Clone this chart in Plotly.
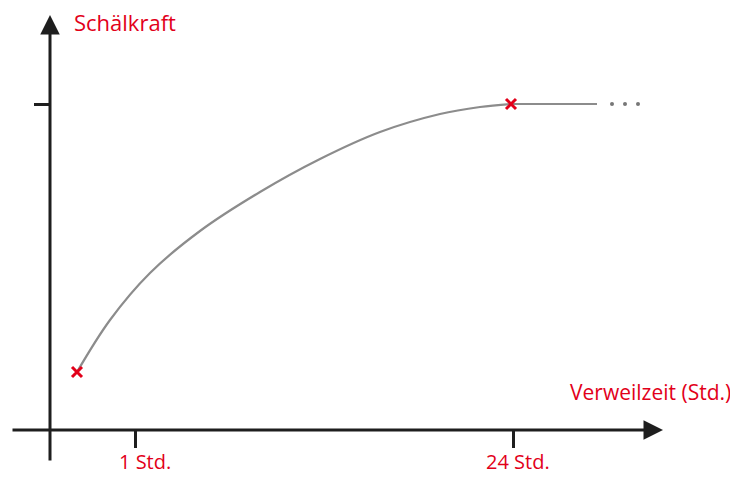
import plotly.graph_objects as go

# Schematic units (x: time axis units from y-axis, y: peel force units from x-axis)
zeit = [27, 60, 100, 150, 210, 270, 330, 390, 430, 461]
schaelkraft = [58, 110, 157, 199, 238, 271, 298, 316, 323, 326]
plateau_x = [461, 547]
plateau_y = [326, 326]
dots_x = [562, 575, 588]
dots_y = [326, 326, 326]
mark_x = [27, 461]
mark_y = [58, 326]
tick_x = [85, 463]
tick_labels = ["1 Std.", "24 Std."]
tick_label_x = [94.5, 468]
ytick = [326]

RED = "#e2001a"
GRAY = "#8c8c8c"
BLACK = "#1e1e1e"
FONT = "Open Sans"

fig = go.Figure()
fig.add_trace(go.Scatter(x=zeit, y=schaelkraft, mode="lines", line=dict(color=GRAY, width=2.2, shape="spline", smoothing=1.0), hoverinfo="skip"))
fig.add_trace(go.Scatter(x=plateau_x, y=plateau_y, mode="lines", line=dict(color=GRAY, width=2.2), hoverinfo="skip"))
fig.add_trace(go.Scatter(x=dots_x, y=dots_y, mode="markers", marker=dict(color="#777777", size=4), hoverinfo="skip"))
fig.add_trace(go.Scatter(x=mark_x, y=mark_y, mode="markers", marker=dict(symbol="x-thin-open", size=10, line=dict(color=RED, width=3), color=RED), hoverinfo="skip"))

# axis arrows
fig.add_annotation(x=613, y=0, ax=-39, ay=0, xref="x", yref="y", axref="x", ayref="y", text="", showarrow=True, arrowhead=2, arrowsize=1.3, arrowwidth=3, arrowcolor=BLACK)
fig.add_annotation(x=0, y=415, ax=0, ay=-32, xref="x", yref="y", axref="x", ayref="y", text="", showarrow=True, arrowhead=2, arrowsize=1.3, arrowwidth=3, arrowcolor=BLACK)

# axis titles
fig.add_annotation(x=22, y=408, xref="x", yref="y", text="Schälkraft", showarrow=False, xanchor="left", yanchor="middle", font=dict(color=RED, size=22, family=FONT))
fig.add_annotation(x=683, y=38, xref="x", yref="y", text="Verweilzeit (Std.)", showarrow=False, xanchor="right", yanchor="middle", font=dict(color=RED, size=21, family=FONT))

for lx, lab in zip(tick_label_x, tick_labels):
    fig.add_annotation(x=lx, y=-47, xref="x", yref="y", text=lab, showarrow=False, xanchor="center", yanchor="bottom", font=dict(color=RED, size=20, family=FONT))

fig.update_layout(
    width=738, height=479,
    margin=dict(l=0, r=0, t=0, b=0),
    paper_bgcolor="white", plot_bgcolor="white",
    showlegend=False,
    xaxis=dict(range=[-42, 696], showgrid=False, zeroline=False, showline=False,
               tickvals=tick_x, ticktext=["", ""], ticks="outside", ticklen=17, tickwidth=3,
               tickcolor=BLACK, anchor="free", position=57/479, fixedrange=True),
    yaxis=dict(range=[-57, 422], showgrid=False, zeroline=False, showline=False,
               tickvals=ytick, ticktext=[""], ticks="outside", ticklen=16, tickwidth=3,
               tickcolor=BLACK, anchor="free", position=42/738, fixedrange=True),
)

fig.write_html("out.html")
